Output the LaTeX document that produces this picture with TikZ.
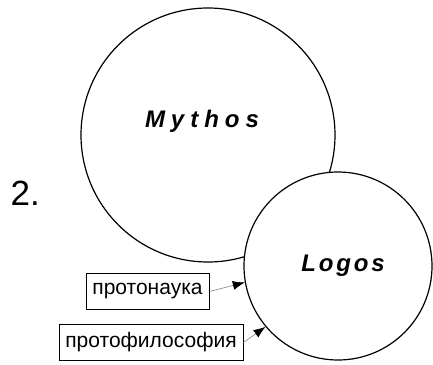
\documentclass[tikz,border=0pt]{standalone}
\usepackage{fontspec}
\setmainfont{Liberation Sans}
\usetikzlibrary{arrows.meta}
\newcommand{\lsp}{\kern0.25em}
\newcommand{\lspl}{\kern0.12em}
\begin{document}
\begin{tikzpicture}[x=1pt, y=-1pt, line width=1.2pt,
  ring/.style={draw, circle, fill=white, inner sep=0pt},
  title/.style={font=\fontsize{24}{28}\selectfont\bfseries\itshape, anchor=base, inner sep=0pt},
  labelbox/.style={draw, line width=0.9pt, font=\fontsize{21}{25}\selectfont, minimum height=36pt, inner xsep=3pt},
  feed/.style={draw=gray, line width=0.6pt, -{Latex[length=12pt,width=9pt,color=black]}}]
\useasboundingbox (0,0) rectangle (433,364);
\node[ring, minimum size=254pt] (mythos) at (208,135) {};
\node[ring, minimum size=188pt] (logos) at (338,266) {};
\node[title] (mythosname) at (202,127) {M\lsp y\lsp t\lsp h\lsp o\lsp s};
\node[title] (logosname) at (343,271) {L\lspl o\lspl g\lspl o\lspl s};
\node[font=\fontsize{35}{40}\selectfont, anchor=base west, inner sep=0pt] (num) at (10,205) {2.};
\node[labelbox, minimum width=123pt] (science) at (147.5,291.5) {протонаука};
\node[labelbox, minimum width=184pt] (philosophy) at (151,342.5) {протофилософия};
\draw[feed] (science.east) -- (logos.190);
\draw[feed] (philosophy.east) -- (logos.220);
\end{tikzpicture}
\end{document}
